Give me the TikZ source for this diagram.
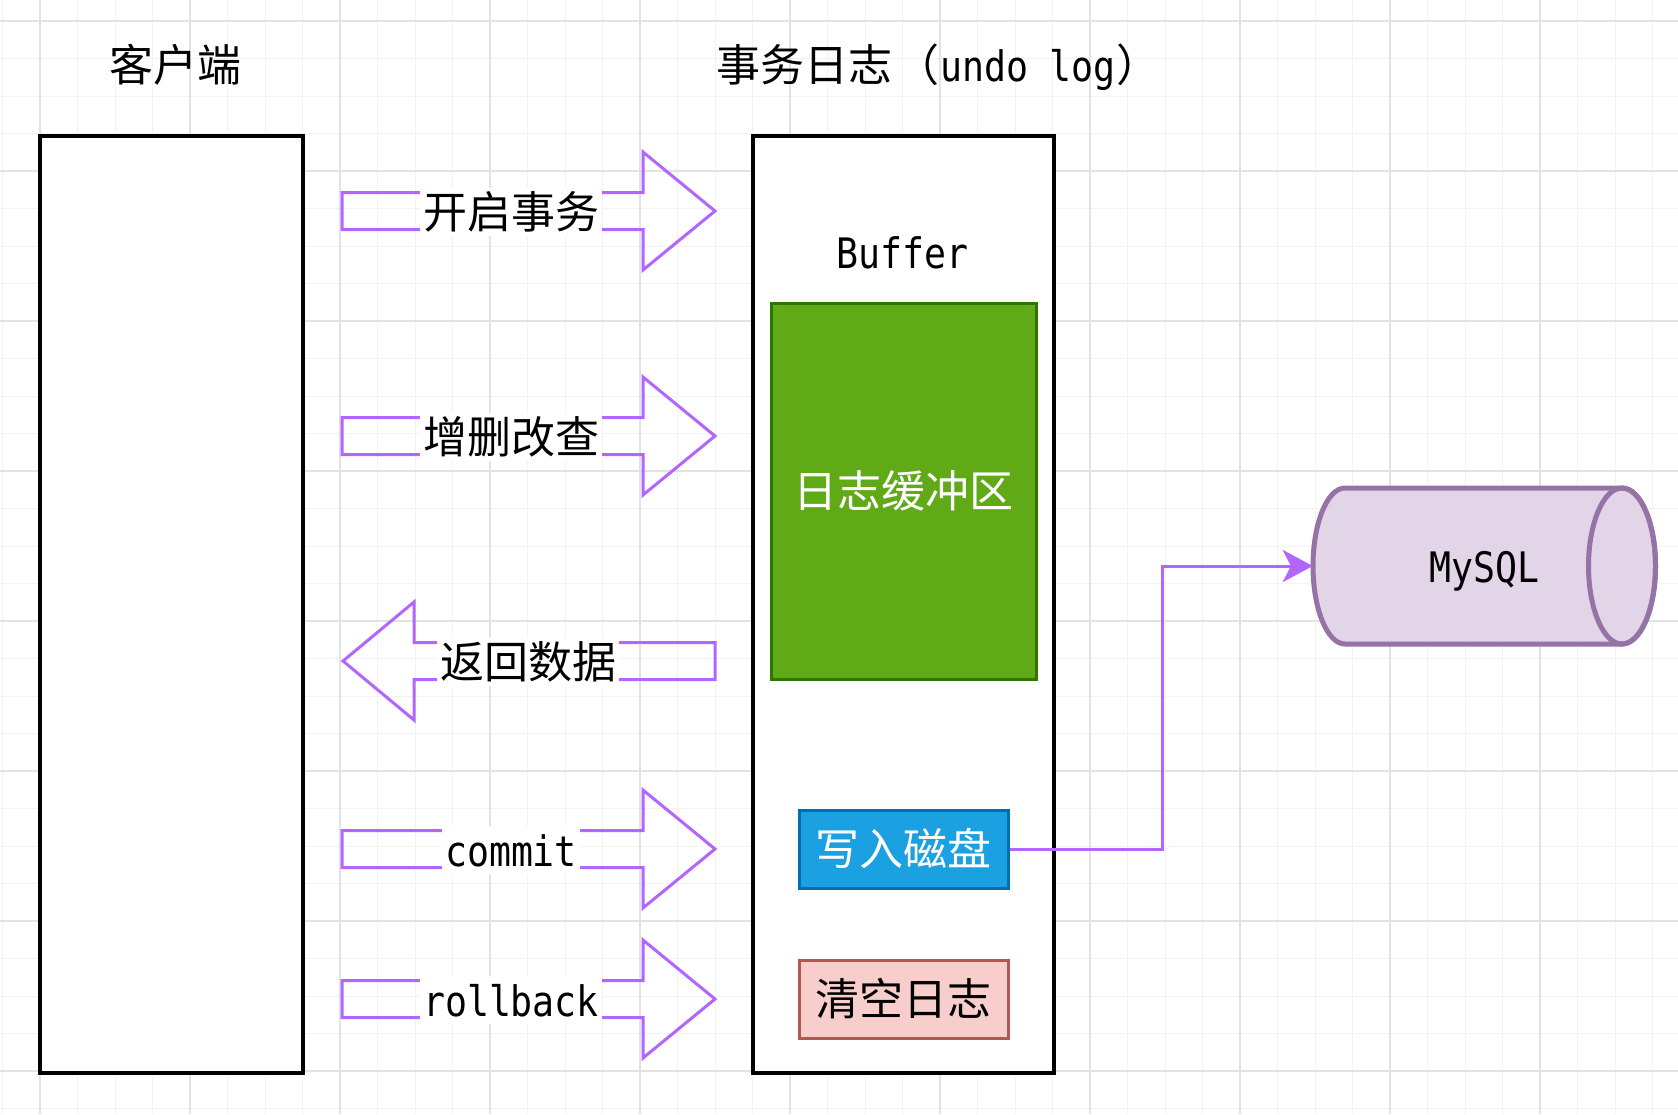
\documentclass[tikz,border=0pt]{standalone}
\usepackage{fontspec}
\usepackage{graphicx}
\usetikzlibrary{arrows.meta}
\newfontfamily\cjk{Noto Sans CJK SC}
\newfontfamily\monof{DejaVu Sans Mono}
\newcommand\lat[1]{{\fontsize{42}{46}\selectfont\scalebox{0.87}[1]{\monof #1}}}
\definecolor{purp}{HTML}{B266FF}
\definecolor{gfill}{HTML}{60A917}
\definecolor{gline}{HTML}{2D7600}
\definecolor{bfill}{HTML}{1BA1E2}
\definecolor{bline}{HTML}{006EAF}
\definecolor{pfill}{HTML}{F8CECC}
\definecolor{pline}{HTML}{B85450}
\definecolor{cfill}{HTML}{E1D5E7}
\definecolor{cline}{HTML}{9673A6}
\definecolor{gridmaj}{HTML}{E3E3E3}
\definecolor{gridmin}{HTML}{F2F2F2}
\newcommand\rarr[1]{\draw[blockarr] (342,{#1-18.5}) -- (643,{#1-18.5}) -- (643,{#1-59}) -- (715,#1) -- (643,{#1+59}) -- (643,{#1+18.5}) -- (342,{#1+18.5}) -- cycle;}
\newcommand\larr[1]{\draw[blockarr] (715,{#1-18.5}) -- (414,{#1-18.5}) -- (414,{#1-59}) -- (343,#1) -- (414,{#1+59}) -- (414,{#1+18.5}) -- (715,{#1+18.5}) -- cycle;}
\begin{document}
\begin{tikzpicture}[x=1pt,y=-1pt,
  txt/.style={font=\cjk\fontsize{44}{48}\selectfont, text height=38pt, text depth=6pt},
  lab/.style={txt, fill=white, inner xsep=3pt, inner ysep=2pt, anchor=base},
  bigbox/.style={draw=black, line width=3.5pt, fill=white, inner sep=0pt},
  colbox/.style={line width=3pt, inner sep=0pt, txt},
  blockarr/.style={draw=purp, line width=3pt, line join=miter},
  conn/.style={draw=purp, line width=3pt, -{Stealth[length=30pt,width=32pt,inset=8pt]}},
  minorl/.style={draw=gridmin, line width=1pt},
  majorl/.style={draw=gridmaj, line width=1.3pt}
]
\useasboundingbox (0,0) rectangle (1678,1114);
\fill[white] (0,0) rectangle (1678,1114);
% grid
\foreach \x in {2.5,40,...,1678} \draw[minorl] (\x,0) -- (\x,1114);
\foreach \y in {21,58.5,...,1114} \draw[minorl] (0,\y) -- (1678,\y);
\foreach \x in {40,190,...,1678} \draw[majorl] (\x,0) -- (\x,1114);
\foreach \y in {21,171,...,1114} \draw[majorl] (0,\y) -- (1678,\y);

% titles
\node[txt, anchor=base, inner sep=0pt] (tclient) at (175,81) {客户端};
\node[txt, anchor=base, inner sep=0pt] (tundo) at (938,81) {事务日志\hspace{4pt}（\lat{undo log}）};

% main boxes
\node[bigbox, minimum width=263pt, minimum height=937pt] (client) at (171.5,604.5) {};
\node[bigbox, minimum width=301pt, minimum height=937pt] (undo) at (903.5,604.5) {};

\node[txt, anchor=base, inner sep=0pt] (buffer) at (902,268) {\lat{Buffer}};
\node[colbox, draw=gline, fill=gfill, text=white, minimum width=265pt, minimum height=376pt] (logbuf) at (903.5,491) {日志缓冲区};
\node[colbox, draw=bline, fill=bfill, text=white, minimum width=209pt, minimum height=78pt] (disk) at (903.5,849) {写入磁盘};
\node[colbox, draw=pline, fill=pfill, text=black, minimum width=209pt, minimum height=78pt] (clear) at (903.5,999) {清空日志};

% block arrows
\rarr{211}
\rarr{436}
\larr{661}
\rarr{849}
\rarr{999}
\node[lab] (l1) at (511,228) {开启事务};
\node[lab] (l2) at (511,453) {增删改查};
\node[lab] (l3) at (528,678) {返回数据};
\node[lab] (l4) at (511,866) {\lat{commit}};
\node[lab] (l5) at (511,1016) {\lat{rollback}};

% cylinder
\filldraw[draw=cline, fill=cfill, line width=5pt]
  (1345,488) -- (1622,488) arc[start angle=-90, end angle=90, x radius=33.5, y radius=78]
  -- (1345,644) arc[start angle=90, end angle=270, x radius=32, y radius=78] -- cycle;
\draw[draw=cline, line width=5pt] (1622,566) ellipse[x radius=33.5, y radius=78];
\node[txt, inner sep=0pt, minimum width=343pt, minimum height=156pt] (mysql) at (1484.5,566) {\lat{MySQL}};

% connector
\draw[conn] (disk.east) -- (1162,849) |- (mysql.west);
\end{tikzpicture}
\end{document}
